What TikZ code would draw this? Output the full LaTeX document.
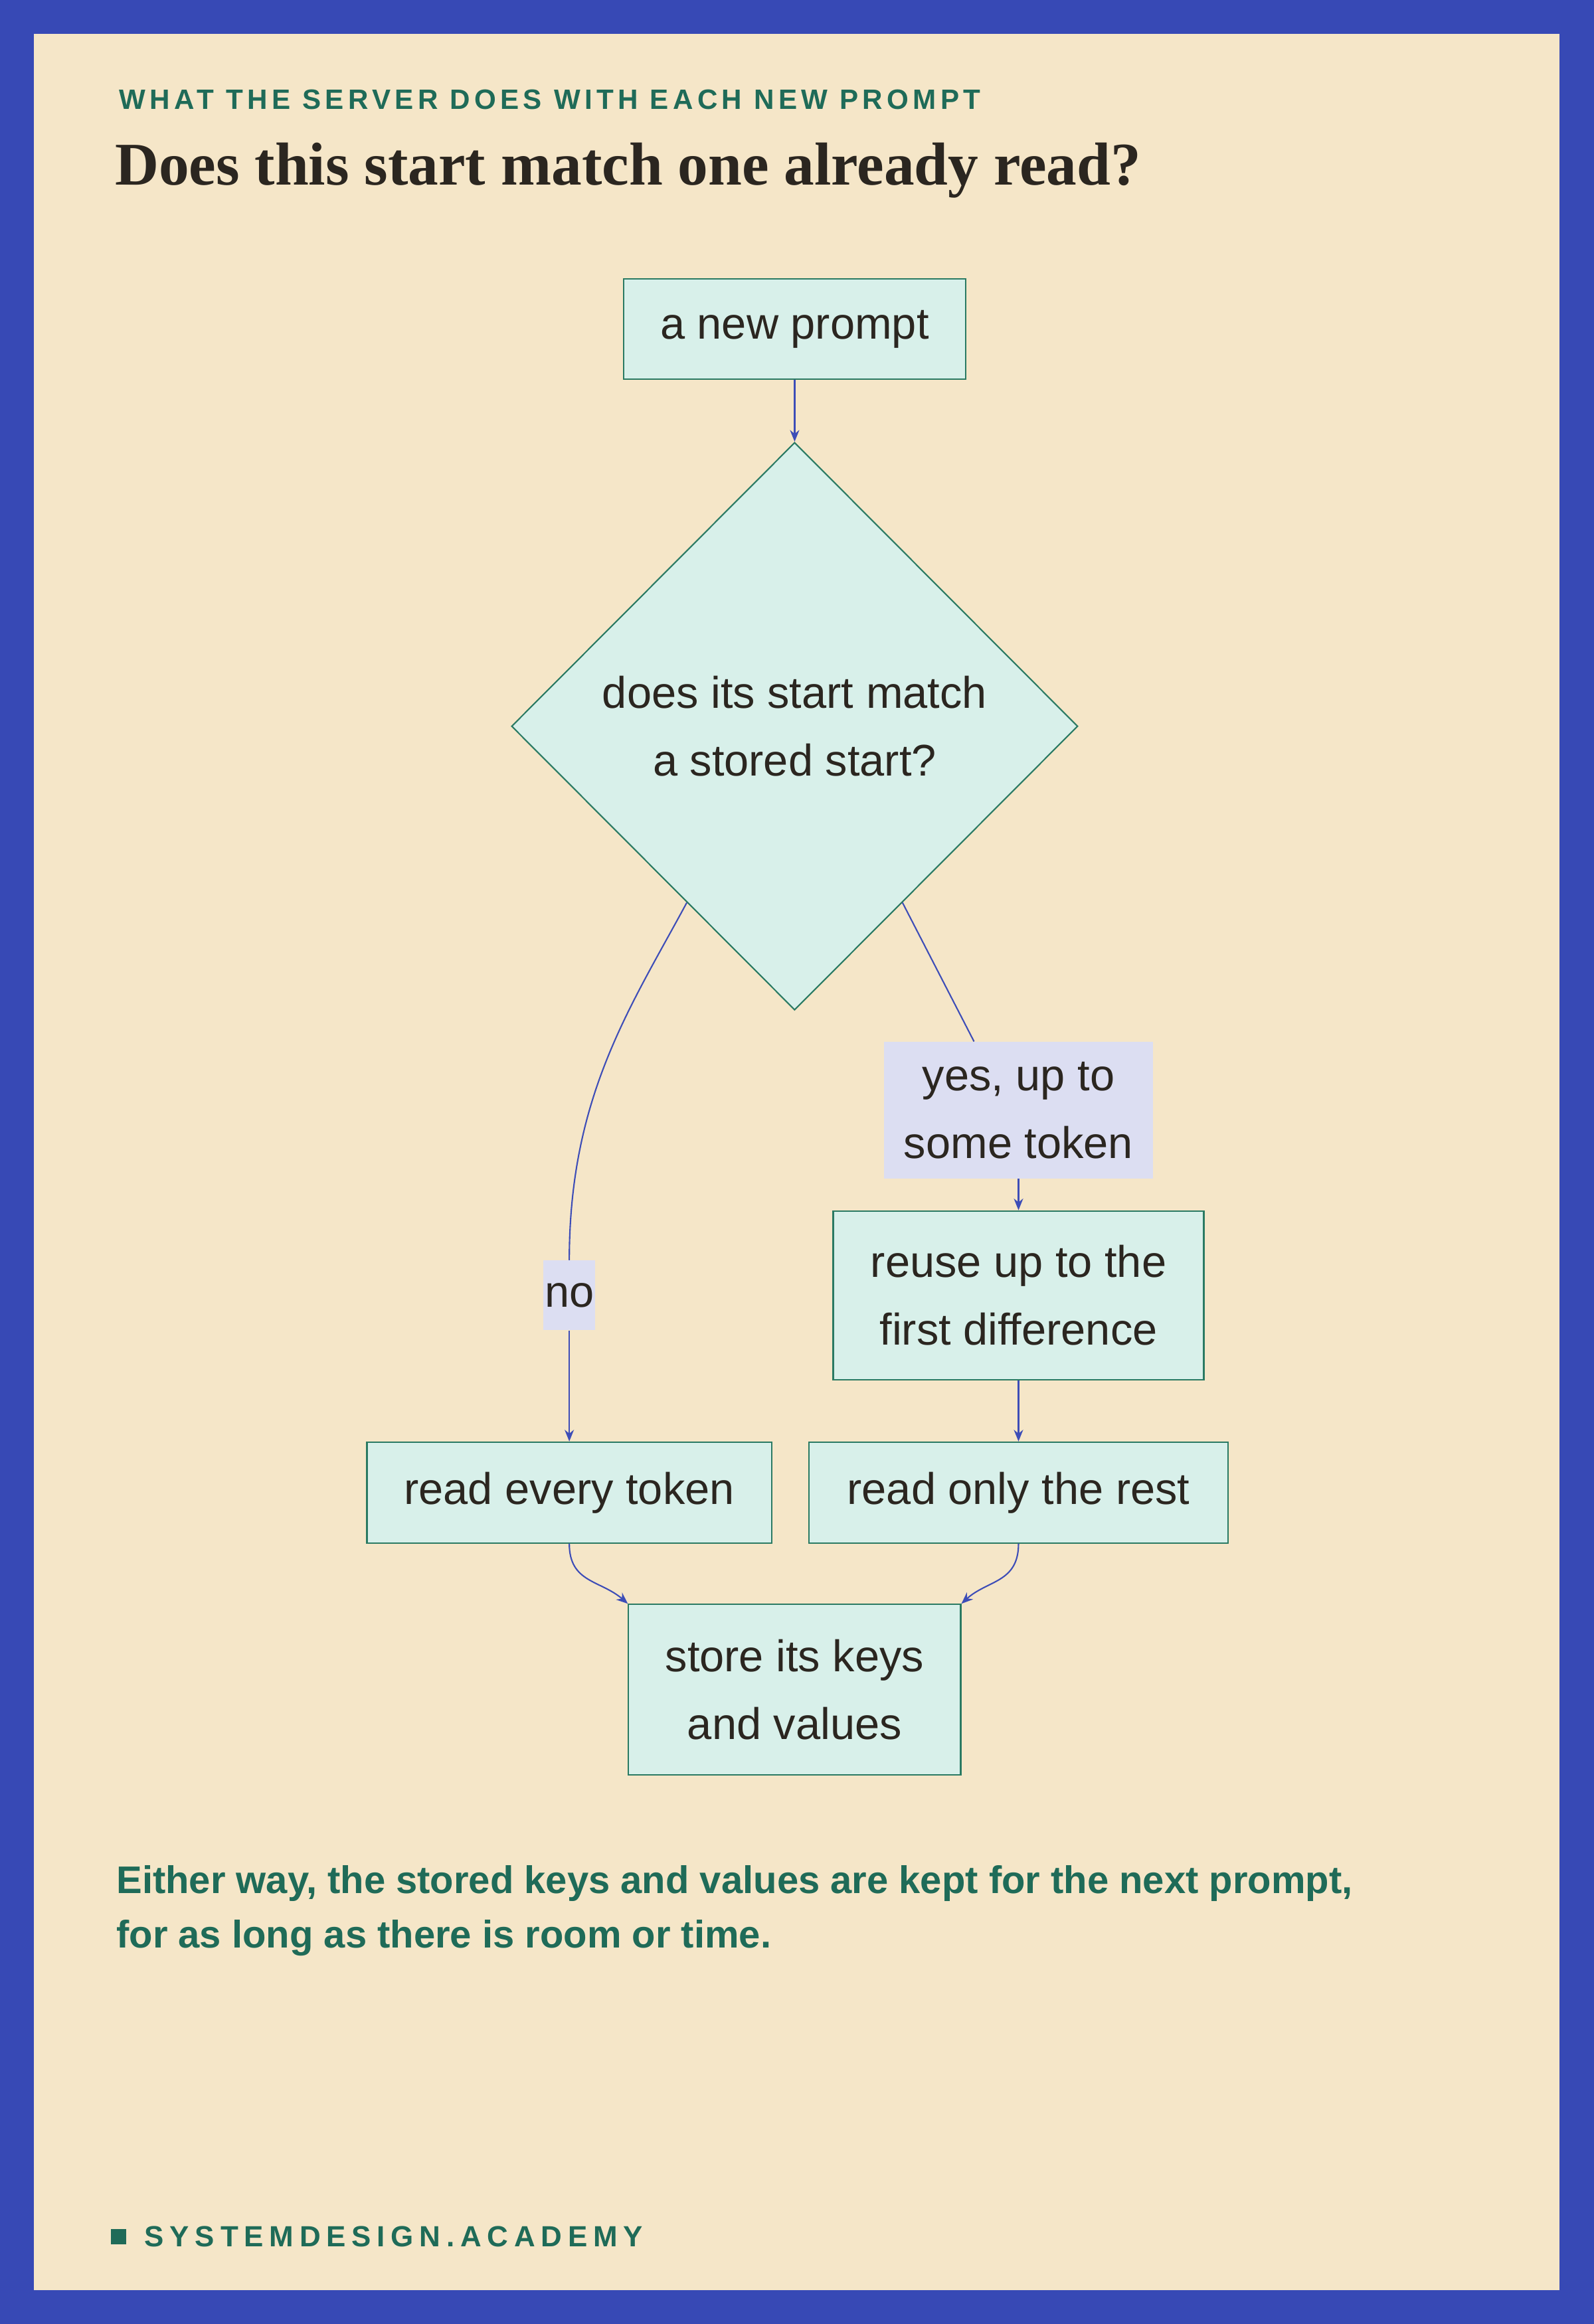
\documentclass[tikz,border=0pt]{standalone}
\usepackage{fontspec}
\setmainfont{Liberation Sans}
\newfontfamily\titlefont{Liberation Serif}
\usetikzlibrary{shapes.geometric,calc,arrows.meta}
\definecolor{frameblue}{HTML}{3749B5}
\definecolor{paper}{HTML}{F5E6C8}
\definecolor{boxfill}{HTML}{D8F0EA}
\definecolor{boxline}{HTML}{2A7A63}
\definecolor{lblfill}{HTML}{DCDEF2}
\definecolor{edgeblue}{HTML}{3D4DB7}
\definecolor{accent}{HTML}{1F6B58}
\definecolor{ink}{HTML}{2B2620}
\def\px{0.02233cm}
\begin{document}
\begin{tikzpicture}[%
  x=0.02233cm, y=-0.02233cm,
  box/.style = {draw=boxline, fill=boxfill, line width=0.6pt, align=center,
    font=\fontsize{19}{29}\selectfont, text=ink, inner sep=0pt},
  decision/.style = {box, diamond, minimum width=382*\px, minimum height=383*\px},
  tag/.style = {fill=lblfill, align=center, inner sep=0pt,
    font=\fontsize{19}{29}\selectfont, text=ink},
  edge/.style = {draw=edgeblue, line width=0.6pt},
  >={Stealth[length=5pt,width=4pt]},
]
  % frame
  \fill[frameblue] (0,0) rectangle (1075,1568);
  \fill[paper] (23,23) rectangle (1052,1545);

  % headings
  \node[anchor=west, text=accent, font=\fontsize{12}{14}\selectfont\bfseries\addfontfeature{LetterSpace=15}]
    (kicker) at (75,67) {WHAT THE SERVER DOES WITH EACH NEW PROMPT};
  \node[anchor=west, text=ink, font=\titlefont\fontsize{26}{30}\selectfont\bfseries]
    (title) at (72,115) {Does this start match one already read?};

  % nodes
  \node[box, minimum width=231*\px, minimum height=68*\px] (prompt) at (536,222) {a new prompt};
  \node[decision] (match) at (536,490) {does its start match\\a stored start?};
  \node[tag, minimum width=181*\px, minimum height=92*\px] (yes) at (687,749) {yes, up to\\some token};
  \node[tag, minimum width=35*\px, minimum height=47*\px] (no) at (384,874) {no};
  \node[box, minimum width=250*\px, minimum height=114*\px] (reuse) at (687,874) {reuse up to the\\first difference};
  \node[box, minimum width=273*\px, minimum height=68*\px] (every) at (384,1007) {read every token};
  \node[box, minimum width=283*\px, minimum height=68*\px] (rest) at (687,1007) {read only the rest};
  \node[box, minimum width=224*\px, minimum height=115*\px] (store) at (536,1140) {store its keys\\and values};

  \coordinate (noout) at ($(match.west)!0.62!(match.south)$);
  \coordinate (yesout) at ($(match.east)!0.62!(match.south)$);

  % connectors
  \draw[edge,->] (prompt) -- (match);
  \draw[edge] (noout) .. controls (425,680) and (384,740) .. (no.north);
  \draw[edge,->] (no) -- (every);
  \draw[edge] (yesout) -- (yes.north -| 657,0);
  \draw[edge,->] (yes) -- (reuse);
  \draw[edge,->] (reuse) -- (rest);
  \draw[edge,->] (every.south) .. controls (384,1068) and (405,1066) .. (store.north west);
  \draw[edge,->] (rest.south) .. controls (687,1068) and (666,1066) .. (store.north east);

  % footer
  \node[anchor=north west, text=accent, align=left, font=\fontsize{16.5}{23.5}\selectfont\bfseries]
    (note) at (73,1253) {Either way, the stored keys and values are kept for the next prompt,\\for as long as there is room or time.};
  \fill[accent] (75,1504) rectangle (85,1514);
  \node[anchor=west, text=accent, font=\fontsize{12.5}{14}\selectfont\bfseries\addfontfeature{LetterSpace=20}]
    (brand) at (92,1509) {SYSTEMDESIGN.ACADEMY};
\end{tikzpicture}
\end{document}
